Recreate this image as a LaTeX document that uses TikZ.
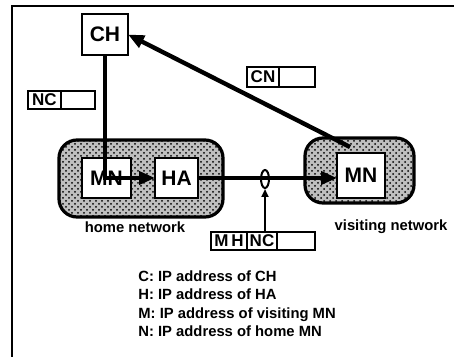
\documentclass[tikz,border=0pt]{standalone}
\usepackage{fontspec}
\setmainfont{Liberation Sans}
\usetikzlibrary{shapes, arrows.meta, positioning, patterns}

\begin{document}
\begin{tikzpicture}[x=0.5pt, y=-0.5pt,
  box/.style={draw, line width=1pt, fill=white, inner sep=0pt, outer sep=0pt, font=\bfseries\fontsize{10.5}{10.5}\selectfont},
  net/.style={draw, line width=1.6pt, rounded corners=9pt, preaction={fill=gray!50}, pattern=crosshatch dots, pattern color=black},
  cell/.style={draw, line width=0.8pt, inner sep=0pt, outer sep=0pt, minimum height=9pt, fill=white, font=\bfseries\fontsize{8.5}{8.5}\selectfont},
  flow/.style={line width=2.2pt, -{Triangle[length=8pt, width=6.5pt]}},
  lbl/.style={inner sep=0pt, font=\bfseries\fontsize{7.4}{9.3}\selectfont}]
  \useasboundingbox (0,0) rectangle (454,357);

  % frame
  \draw[line width=1.4pt] (12,357) -- (12,6) -- (454,6);

  % networks
  \draw[net] (59,140) rectangle (223,217);
  \draw[net] (305,138) rectangle (414,203);

  % hosts
  \node[box, minimum width=23pt, minimum height=20.5pt] (CH) at (105,34.5) {CH};
  \node[box, minimum width=24.5pt, minimum height=20pt] (hMN) at (106.5,178) {MN};
  \node[box, minimum width=21.5pt, minimum height=20pt] (HA) at (176.5,178) {HA};
  \node[box, minimum width=24pt, minimum height=22.5pt] (vMN) at (361,175.5) {MN};

  \node[lbl] (homelbl) at (135,227) {home network};
  \node[lbl] (vislbl) at (391,227) {visiting network};

  % packets
  \node[cell, minimum width=16.5pt] (nc1) at (44.5,100) {NC};
  \node[cell, minimum width=17pt, right=0pt of nc1] (nc2) {};
  \node[cell, minimum width=16pt, minimum height=10pt] (cn1) at (263,77) {CN};
  \node[cell, minimum width=18pt, minimum height=10pt, right=0pt of cn1] (cn2) {};
  \node[cell, minimum width=18pt] (mh1) at (229,241) {M\,H};
  \node[cell, minimum width=15pt, right=0pt of mh1] (mh2) {NC};
  \node[cell, minimum width=19pt, right=0pt of mh2] (mh3) {};

  % paths
  \draw[flow] (CH.south) |- (HA.west);
  \draw[flow] (HA.east) -- (HA.east -| vMN.west);
  \coordinate (mnout) at (350,147);
  \draw[flow] (mnout) -- (CH.east);

  % tunnel
  \node[draw, ellipse, line width=1pt, minimum width=4pt, minimum height=9pt, inner sep=0pt] (tun) at (265,179) {};
  \draw[line width=1pt, -{Triangle[length=4pt, width=3.5pt]}] (mh2.north -| tun.south) -- (tun.south);

  % legend
  \node[lbl, anchor=north west, align=left] (legend) at (138,270) {C: IP address of CH\\
    H: IP address of HA\\
    M: IP address of visiting MN\\
    N: IP address of home MN};
\end{tikzpicture}
\end{document}
